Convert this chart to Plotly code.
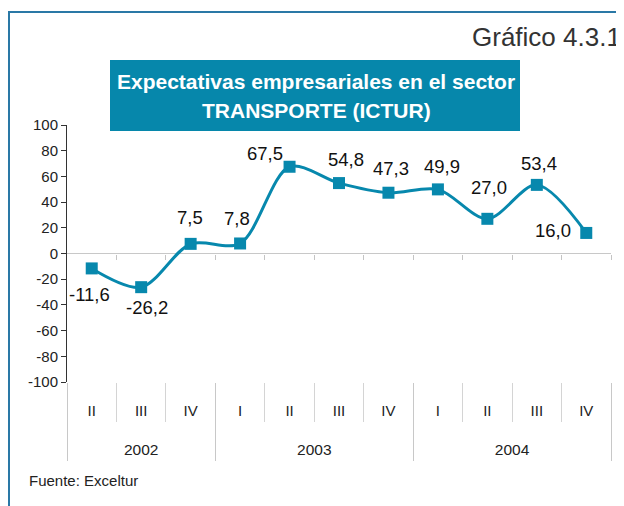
import plotly.graph_objects as go

years = ["2002", "2002", "2002", "2003", "2003", "2003", "2003", "2004", "2004", "2004", "2004"]
quarters = ["II", "III", "IV", "I", "II", "III", "IV", "I", "II", "III", "IV"]
values = [-11.6, -26.2, 7.5, 7.8, 67.5, 54.8, 47.3, 49.9, 27.0, 53.4, 16.0]
labels = ["-11,6", "-26,2", "7,5", "7,8", "67,5", "54,8", "47,3", "49,9", "27,0", "53,4", "16,0"]
y_ticks = [100, 80, 60, 40, 20, 0, -20, -40, -60, -80, -100]

# label offsets in px (dx, dy) relative to each point (dy positive = downwards)
label_offsets = [(-2, 26), (6, 20), (-1, -26), (-3, -25), (-25, -13), (7, -24), (3, -24),
                 (4, -23), (2, -31), (2, -21), (-33, -2)]

TEAL = "#0788ad"
FONT = "Liberation Sans, Arial, sans-serif"
n = len(values)
idx = list(range(n))

# year groups (derived from the years list)
uniq_years = []
for y in years:
    if y not in uniq_years:
        uniq_years.append(y)
year_centers = []
year_bounds = []
for y in uniq_years:
    ii = [i for i, v in enumerate(years) if v == y]
    year_centers.append((ii[0] + ii[-1]) / 2)
    year_bounds.append(ii[0] - 0.5)
year_bounds.append(n - 0.5)

fig = go.Figure()
fig.add_trace(go.Scatter(
    x=idx, y=values,
    mode="lines+markers",
    line=dict(color=TEAL, width=3, shape="spline", smoothing=0.9),
    marker=dict(symbol="square", size=12, color=TEAL),
    hoverinfo="skip", showlegend=False,
))
for ax in ("x2", "x3"):
    fig.add_trace(go.Scatter(
        x=idx, y=values, xaxis=ax, mode="lines",
        line=dict(width=0, color="rgba(0,0,0,0)"), hoverinfo="skip", showlegend=False,
    ))

for i, (v, t, (dx, dy)) in enumerate(zip(values, labels, label_offsets)):
    fig.add_annotation(x=i, y=v, xref="x", yref="y", text=t, showarrow=False,
                       xanchor="center", yanchor="middle",
                       xshift=dx, yshift=-dy,
                       font=dict(family=FONT, size=18.5, color="#111"))

# the page body adds an 8px offset; figure coordinates below are screen - 8
OFF = 8
W, H = 616, 498
L, R, T, B = 67 - OFF, W - (611 - OFF), 125 - OFF, H - (382 - OFF)

rng = [-0.5, n - 0.5]
fig.update_layout(
    width=W, height=H,
    margin=dict(l=L, r=R, t=T, b=B),
    paper_bgcolor="white", plot_bgcolor="white",
    font=dict(family=FONT, color="#222", size=15),
    xaxis=dict(
        range=rng, tickvals=idx, ticktext=quarters, ticks="", showline=False,
        showgrid=False, zeroline=False, automargin=False, ticklabelstandoff=18,
        tickfont=dict(family=FONT, size=15, color="#222"),
        minor=dict(tickvals=[i + 0.5 for i in range(n - 1)], ticks="outside", ticklen=39,
                   tickcolor="#d4d4d4", tickwidth=1, showgrid=False),
    ),
    xaxis3=dict(
        overlaying="x", anchor="y", side="bottom", range=rng,
        tickvals=year_centers, ticktext=uniq_years, ticks="", showline=False,
        showgrid=False, zeroline=False, automargin=False, ticklabelstandoff=56,
        tickfont=dict(family=FONT, size=15.5, color="#222"),
        minor=dict(tickvals=year_bounds, ticks="outside", ticklen=78,
                   tickcolor="#c8c8c8", tickwidth=1, showgrid=False),
    ),
    xaxis2=dict(
        overlaying="x", anchor="free", position=0.5, range=rng,
        tickvals=[i + 0.5 for i in range(n)], ticks="outside", ticklen=5,
        tickcolor="#c4c4c4", showticklabels=False, showgrid=False, showline=False,
        zeroline=False, automargin=False,
    ),
    yaxis=dict(
        range=[-100, 100], tickvals=y_ticks, ticktext=[str(v) for v in y_ticks],
        showline=True, linecolor="#333", linewidth=1, ticks="outside", ticklen=5,
        tickcolor="#333", showgrid=False, zeroline=True, zerolinecolor="#c8c8c8",
        zerolinewidth=1, automargin=False, tickfont=dict(family=FONT, size=15, color="#222"),
    ),
)

PX = 544.0
PY = 257.0
# outer frame
fig.add_shape(type="rect", xref="paper", yref="paper",
              x0=(9 - 67) / PX, x1=(650 - 67) / PX, y0=(382 - 530) / PY, y1=(382 - 12) / PY,
              line=dict(color="#2a78a6", width=2), fillcolor="rgba(0,0,0,0)", layer="below")
# title box
fig.add_shape(type="rect", xref="paper", yref="paper",
              x0=(110 - 67) / PX, x1=(520 - 67) / PX, y0=(382 - 131) / PY, y1=(382 - 60) / PY,
              line=dict(width=0), fillcolor="#0687ab", layer="above")
fig.add_annotation(xref="paper", yref="paper", x=(316 - 67) / PX, y=(382 - 82) / PY,
                   xanchor="center", yanchor="middle",
                   text="<b>Expectativas empresariales en el sector</b>", showarrow=False,
                   font=dict(family=FONT, size=21, color="white"))
fig.add_annotation(xref="paper", yref="paper", x=(316 - 67) / PX, y=(382 - 110) / PY,
                   xanchor="center", yanchor="middle",
                   text="<b>TRANSPORTE (ICTUR)</b>", showarrow=False,
                   font=dict(family=FONT, size=21, color="white"))
fig.add_annotation(xref="paper", yref="paper", x=(623 - 67) / PX, y=(382 - 37) / PY,
                   xanchor="right", yanchor="middle", text="Gráfico 4.3.1", showarrow=False,
                   font=dict(family=FONT, size=26, color="#333"))
fig.add_annotation(xref="paper", yref="paper", x=(27 - 67) / PX, y=(382 - 480) / PY,
                   xanchor="left", yanchor="middle", text="Fuente: Exceltur", showarrow=False,
                   font=dict(family=FONT, size=15, color="#222"))

fig.write_html("out.html")
